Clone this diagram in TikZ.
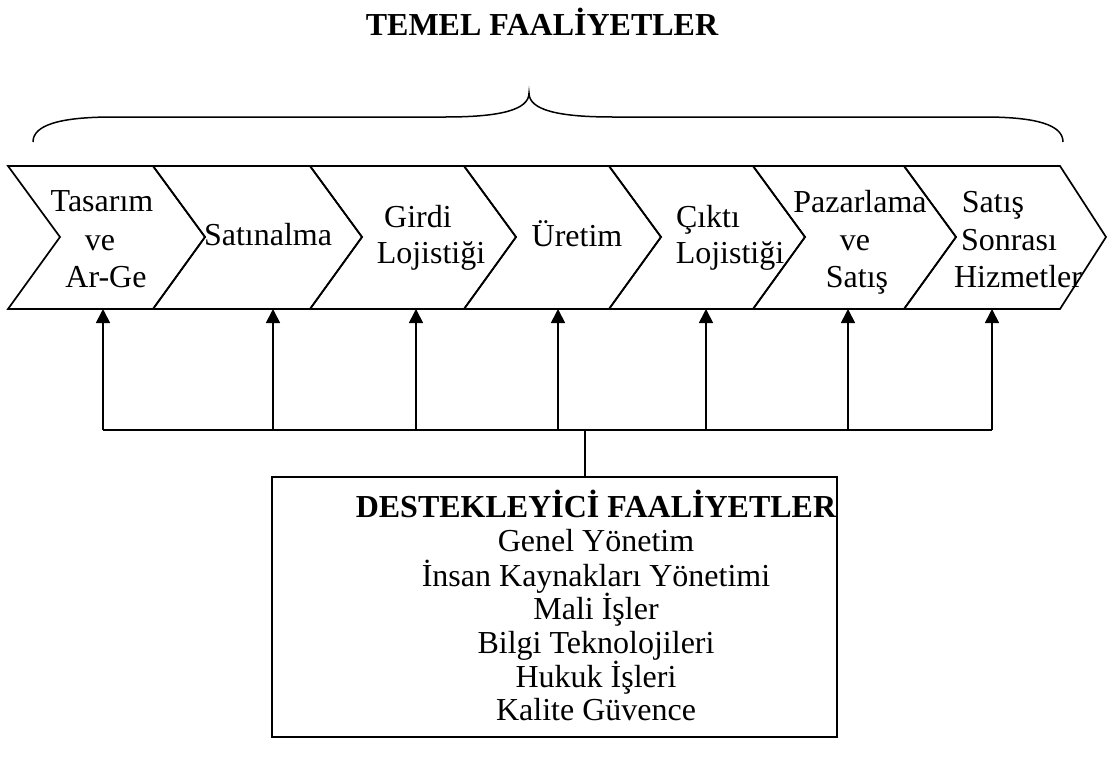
\documentclass[tikz,border=0pt]{standalone}
\usepackage{fontspec}
\setmainfont{Liberation Serif}
\usetikzlibrary{arrows.meta}
\begin{document}
\begin{tikzpicture}[x=1pt,y=-1pt,line width=1.7pt,
  txt/.style={font=\fontsize{32}{36}\selectfont,inner sep=0pt,anchor=base},
  bold/.style={txt,font=\fontsize{32}{36}\selectfont\bfseries},
  uparrow/.style={-{Triangle[width=14pt,length=14pt]}},
  panel/.style={draw,minimum width=565pt,minimum height=260pt,inner sep=0pt}]
\useasboundingbox (0,0) rectangle (1108,766);

% heading and brace
\node[bold] (head) at (542,35) {TEMEL FAALİYETLER};
\draw[line width=1.5pt] (33,142) .. controls (33,125) and (60,117) .. (113,117)
  -- (445,117) .. controls (500,117) and (529,110) .. (529,93)
  .. controls (529,110) and (558,117) .. (613,117)
  -- (984,117) .. controls (1037,117) and (1063,125) .. (1063,142);

% chain of chevrons: left edge / right edge / depth of the point
\foreach \a/\b/\d in {8/153/52,153/310/52,310/464/52,464/609/52,609/753/52,753/904/52,904/1060/46}
  \draw[line join=miter] (\a,166) -- (\b,166) -- (\b+\d,237) -- (\b,309) -- (\a,309) -- (\a+52,237) -- cycle;

% chevron labels
\node[txt] (t1a) at (102,211) {Tasarım};
\node[txt] (t1b) at (100,250) {ve};
\node[txt] (t1c) at (106,287) {Ar-Ge};
\node[txt] (t2)  at (268,245) {Satınalma};
\node[txt] (t3a) at (418,227) {Girdi};
\node[txt] (t3b) at (431,263) {Lojistiği};
\node[txt] (t4)  at (577,246) {Üretim};
\node[txt] (t5a) at (708,227) {Çıktı};
\node[txt] (t5b) at (730,263) {Lojistiği};
\node[txt] (t6a) at (860,212) {Pazarlama};
\node[txt] (t6b) at (855,250) {ve};
\node[txt] (t6c) at (857,287) {Satış};
\node[txt] (t7a) at (993,212) {Satış};
\node[txt] (t7b) at (1009,250) {Sonrası};
\node[txt] (t7c) at (1018,287) {Hizmetler};

% support activities panel
\node[panel] (sup) at (554.5,607) {};
\node[bold] (s0) at (596,517) {DESTEKLEYİCİ FAALİYETLER};
\node[txt] (s1) at (596,551) {Genel Yönetim};
\node[txt] (s2) at (596,586) {İnsan Kaynakları Yönetimi};
\node[txt] (s3) at (596,619) {Mali İşler};
\node[txt] (s4) at (596,653) {Bilgi Teknolojileri};
\node[txt] (s5) at (596,687) {Hukuk İşleri};
\node[txt] (s6) at (596,720) {Kalite Güvence};

% distribution bus and arrows up to each chevron
\foreach \x [count=\i] in {103,273,416,558,706,848,992} {
  \coordinate (b\i) at (\x,430);
  \coordinate (a\i) at (\x,309);
}
\coordinate (hub) at (585,430);
\draw (b1) -- (b7);
\draw (hub) -- (hub |- sup.north);
\foreach \i in {1,...,7}
  \draw[uparrow] (b\i) -- (a\i);
\end{tikzpicture}
\end{document}
